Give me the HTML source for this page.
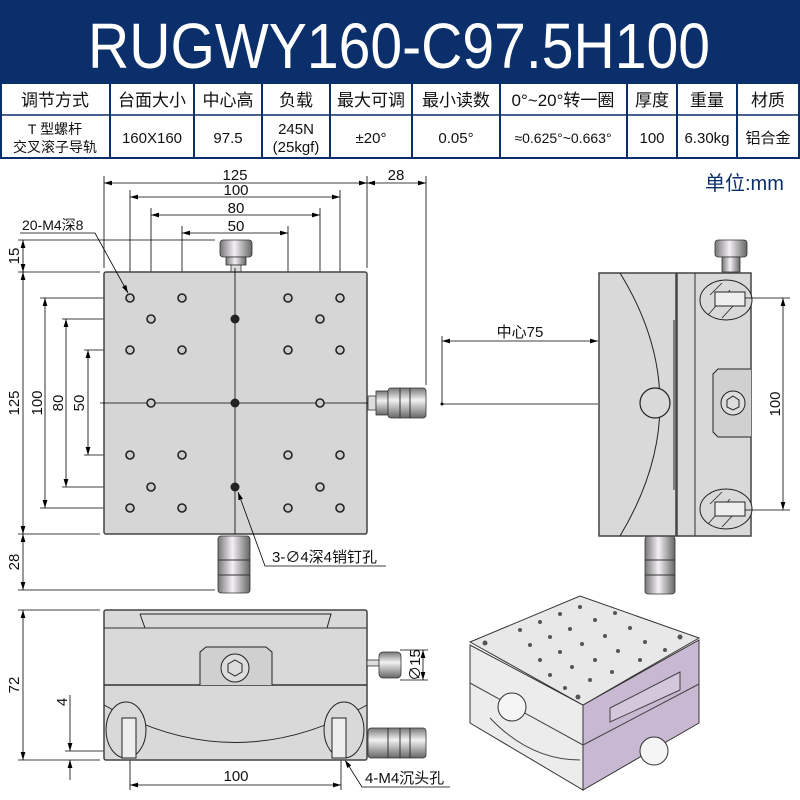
<!DOCTYPE html>
<html><head><meta charset="utf-8"><style>
body{margin:0;background:#fff}
svg{display:block}
text{font-family:"Liberation Sans","Noto Sans CJK SC",sans-serif}
</style></head><body>
<svg width="800" height="800" viewBox="0 0 800 800" xmlns="http://www.w3.org/2000/svg">
<defs>
<marker id="a" viewBox="0 0 10 6" refX="10" refY="3" markerWidth="10" markerHeight="6" orient="auto-start-reverse"><path d="M0,0L10,3L0,6z" fill="#000"/></marker>
<linearGradient id="kn" x1="0" y1="0" x2="0" y2="1"><stop offset="0" stop-color="#777"/><stop offset=".4" stop-color="#f2f2f2"/><stop offset="1" stop-color="#666"/></linearGradient>
<linearGradient id="kv" x1="0" y1="0" x2="1" y2="0"><stop offset="0" stop-color="#777"/><stop offset=".45" stop-color="#f4f0f4"/><stop offset="1" stop-color="#666"/></linearGradient>
</defs>
<rect x="0" y="0" width="800" height="83" fill="#0b2f6a"/>
<text x="399" y="68" font-size="64" fill="#fff" text-anchor="middle" textLength="622" lengthAdjust="spacingAndGlyphs">RUGWY160-C97.5H100</text>
<g stroke="#0b2f6a" stroke-width="2" fill="none">
<rect x="1" y="83" width="798" height="75"/>
<line x1="0" y1="115" x2="800" y2="115" stroke-width="1.5"/>
<line x1="110" y1="83" x2="110" y2="158"/><line x1="194" y1="83" x2="194" y2="158"/>
<line x1="262" y1="83" x2="262" y2="158"/><line x1="330" y1="83" x2="330" y2="158"/>
<line x1="412" y1="83" x2="412" y2="158"/><line x1="500" y1="83" x2="500" y2="158"/>
<line x1="627" y1="83" x2="627" y2="158"/><line x1="677" y1="83" x2="677" y2="158"/>
<line x1="737" y1="83" x2="737" y2="158"/>
</g>
<g font-size="17" text-anchor="middle" fill="#111">
<text x="55" y="106">调节方式</text><text x="152" y="106">台面大小</text><text x="228" y="106">中心高</text>
<text x="296" y="106">负载</text><text x="371" y="106">最大可调</text><text x="456" y="106">最小读数</text>
<text x="563" y="106">0°~20°转一圈</text><text x="652" y="106">厚度</text><text x="707" y="106">重量</text><text x="768" y="106">材质</text>
</g>
<g font-size="15" text-anchor="middle" fill="#111">
<text x="55" y="134" font-size="14">T 型螺杆</text><text x="55" y="152" font-size="14">交叉滚子导轨</text>
<text x="152" y="143">160X160</text><text x="228" y="143">97.5</text>
<text x="296" y="134">245N</text><text x="296" y="152">(25kgf)</text>
<text x="371" y="143">±20°</text><text x="456" y="143">0.05°</text>
<text x="563" y="143" font-size="14">≈0.625°~0.663°</text><text x="652" y="143">100</text><text x="707" y="143">6.30kg</text><text x="768" y="143">铝合金</text>
</g>
<text x="705" y="190" font-size="20" fill="#0b2f6a">单位:mm</text>

<g stroke="#000" stroke-width="0.8" fill="none">
<line x1="104" y1="176" x2="104" y2="268"/><line x1="367" y1="176" x2="367" y2="268"/><line x1="426" y1="176" x2="426" y2="385"/>
<line x1="130" y1="190" x2="130" y2="290"/><line x1="340" y1="190" x2="340" y2="290"/>
<line x1="151" y1="208" x2="151" y2="312"/><line x1="320" y1="208" x2="320" y2="306"/>
<line x1="182" y1="226" x2="182" y2="290"/><line x1="288" y1="226" x2="288" y2="290"/>
<line x1="104" y1="183" x2="367" y2="183" marker-start="url(#a)" marker-end="url(#a)"/>
<line x1="367" y1="183" x2="426" y2="183" marker-start="url(#a)" marker-end="url(#a)"/>
<line x1="130" y1="197" x2="340" y2="197" marker-start="url(#a)" marker-end="url(#a)"/>
<line x1="151" y1="215" x2="320" y2="215" marker-start="url(#a)" marker-end="url(#a)"/>
<line x1="182" y1="233" x2="288" y2="233" marker-start="url(#a)" marker-end="url(#a)"/>
<line x1="18" y1="240" x2="215" y2="240"/><line x1="18" y1="272" x2="100" y2="272"/>
<line x1="18" y1="534" x2="100" y2="534"/><line x1="18" y1="590" x2="215" y2="590"/>
<line x1="40" y1="298" x2="125" y2="298"/><line x1="40" y1="508" x2="125" y2="508"/>
<line x1="62" y1="319" x2="146" y2="319"/><line x1="62" y1="487" x2="146" y2="487"/>
<line x1="84" y1="350" x2="125" y2="350"/><line x1="84" y1="455" x2="125" y2="455"/>
<line x1="23" y1="240" x2="23" y2="272" marker-start="url(#a)" marker-end="url(#a)"/>
<line x1="23" y1="272" x2="23" y2="534" marker-start="url(#a)" marker-end="url(#a)"/>
<line x1="23" y1="534" x2="23" y2="590" marker-start="url(#a)" marker-end="url(#a)"/>
<line x1="45" y1="298" x2="45" y2="508" marker-start="url(#a)" marker-end="url(#a)"/>
<line x1="66" y1="319" x2="66" y2="487" marker-start="url(#a)" marker-end="url(#a)"/>
<line x1="88" y1="350" x2="88" y2="455" marker-start="url(#a)" marker-end="url(#a)"/>
</g>
<g font-size="15" text-anchor="middle" fill="#111">
<text x="235" y="180">125</text><text x="396" y="180">28</text><text x="236" y="195">100</text>
<text x="236" y="213">80</text><text x="236" y="231">50</text>
<text transform="translate(19,256) rotate(-90)">15</text>
<text transform="translate(19,403) rotate(-90)">125</text>
<text transform="translate(19,562) rotate(-90)">28</text>
<text transform="translate(42,403) rotate(-90)">100</text>
<text transform="translate(63,403) rotate(-90)">80</text>
<text transform="translate(84,403) rotate(-90)">50</text>
</g>
<rect x="220" y="240" width="32" height="17" rx="3" fill="url(#kv)" stroke="#333" stroke-width=".8"/>
<rect x="226" y="257" width="20" height="8" fill="url(#kv)" stroke="#333" stroke-width=".8"/>
<rect x="231" y="265" width="10" height="7" fill="#ddd" stroke="#333" stroke-width=".8"/>
<rect x="368" y="396" width="8" height="14" fill="#ddd" stroke="#333" stroke-width=".8"/>
<rect x="376" y="391" width="12" height="24" fill="url(#kn)" stroke="#333" stroke-width=".8"/>
<rect x="388" y="388" width="38" height="30" rx="3" fill="url(#kn)" stroke="#333" stroke-width=".8"/>
<line x1="400" y1="388" x2="400" y2="418" stroke="#333"/><line x1="410" y1="388" x2="410" y2="418" stroke="#333"/>
<rect x="218" y="536" width="32" height="57" rx="3" fill="url(#kv)" stroke="#333" stroke-width=".8"/>
<line x1="218" y1="560" x2="250" y2="560" stroke="#333"/><line x1="218" y1="575" x2="250" y2="575" stroke="#333"/>
<rect x="104" y="272" width="263" height="262" rx="2" fill="#d6d6d6" stroke="#444" stroke-width="1.5"/>
<g stroke="#000" stroke-width="0.8" fill="none">
<line x1="235" y1="268" x2="235" y2="534"/><line x1="100" y1="403" x2="368" y2="403"/>
</g>
<g fill="#ccc" stroke="#222" stroke-width="1.6">
<circle cx="130" cy="298" r="4"/><circle cx="182" cy="298" r="4"/><circle cx="288" cy="298" r="4"/><circle cx="340" cy="298" r="4"/>
<circle cx="130" cy="350" r="4"/><circle cx="182" cy="350" r="4"/><circle cx="288" cy="350" r="4"/><circle cx="340" cy="350" r="4"/>
<circle cx="130" cy="455" r="4"/><circle cx="182" cy="455" r="4"/><circle cx="288" cy="455" r="4"/><circle cx="340" cy="455" r="4"/>
<circle cx="130" cy="508" r="4"/><circle cx="182" cy="508" r="4"/><circle cx="288" cy="508" r="4"/><circle cx="340" cy="508" r="4"/>
<circle cx="151" cy="319" r="4"/><circle cx="320" cy="319" r="4"/><circle cx="151" cy="403" r="4"/><circle cx="320" cy="403" r="4"/>
<circle cx="151" cy="487" r="4"/><circle cx="320" cy="487" r="4"/>
</g>
<g fill="#222"><circle cx="235" cy="319" r="4.5"/><circle cx="235" cy="403" r="4.5"/><circle cx="235" cy="487" r="4.5"/></g>
<g stroke="#000" stroke-width="0.8" fill="none">
<polyline points="20,233 95,233 128,293" marker-end="url(#a)"/>
<polyline points="386,566 265,566 238,492" marker-end="url(#a)"/>
</g>
<text x="22" y="230" font-size="14" fill="#111">20-M4深8</text>
<text x="272" y="562" font-size="15" fill="#111">3-∅4深4销钉孔</text>

<rect x="715" y="240" width="32" height="17" rx="3" fill="url(#kv)" stroke="#333" stroke-width=".8"/>
<rect x="722" y="257" width="18" height="15" fill="url(#kv)" stroke="#333" stroke-width=".8"/>
<rect x="645" y="536" width="30" height="58" rx="3" fill="url(#kv)" stroke="#333" stroke-width=".8"/>
<line x1="645" y1="560" x2="675" y2="560" stroke="#333"/><line x1="645" y1="575" x2="675" y2="575" stroke="#333"/>
<rect x="599" y="273" width="77" height="263" fill="#d9d9d9" stroke="#444" stroke-width="1.5"/>
<rect x="677" y="273" width="74" height="263" fill="#d9d9d9" stroke="#444" stroke-width="1.5"/>
<path d="M620,273 Q700,403 620,536" fill="none" stroke="#222" stroke-width="1"/>
<line x1="674" y1="320" x2="674" y2="490" stroke="#222"/>
<line x1="695" y1="273" x2="695" y2="536" stroke="#333"/>
<circle cx="655" cy="403" r="15" fill="#d9d9d9" stroke="#222" stroke-width="1.2"/>
<path d="M751,369 L718,369 L713,374 L713,432 L718,437 L751,437" fill="#d0d0d0" stroke="#222"/>
<circle cx="733" cy="403" r="12" fill="#ddd" stroke="#222"/><polygon points="733,396 739,400 739,407 733,410 727,407 727,400" fill="none" stroke="#222"/>
<ellipse cx="726" cy="300" rx="26" ry="20" fill="#d9d9d9" stroke="#222"/>
<ellipse cx="726" cy="509" rx="26" ry="20" fill="#d9d9d9" stroke="#222"/>
<g stroke="#222" stroke-width="0.8">
<line x1="708" y1="315" x2="730" y2="290"/><line x1="722" y1="318" x2="745" y2="293"/><line x1="710" y1="295" x2="722" y2="283"/>
<line x1="708" y1="524" x2="730" y2="499"/><line x1="722" y1="527" x2="745" y2="502"/><line x1="710" y1="504" x2="722" y2="492"/>
</g>
<rect x="715" y="292" width="30" height="14" fill="#eee" stroke="#222"/><rect x="715" y="502" width="30" height="14" fill="#eee" stroke="#222"/>
<g stroke="#000" stroke-width="0.8" fill="none">
<line x1="442" y1="336" x2="442" y2="405"/><line x1="443" y1="404" x2="598" y2="404"/>
<line x1="442" y1="341" x2="598" y2="341" marker-start="url(#a)" marker-end="url(#a)"/>
<line x1="745" y1="298" x2="790" y2="298"/><line x1="745" y1="510" x2="790" y2="510"/>
<line x1="783" y1="298" x2="783" y2="510" marker-start="url(#a)" marker-end="url(#a)"/>
</g>
<circle cx="442" cy="404" r="1.5"/>
<text x="520" y="337" font-size="15" text-anchor="middle" fill="#111">中心75</text>
<text transform="translate(780,404) rotate(-90)" font-size="15" text-anchor="middle" fill="#111">100</text>

<g stroke="#000" stroke-width="0.8" fill="none">
<line x1="18" y1="610" x2="100" y2="610"/><line x1="18" y1="760" x2="100" y2="760"/>
<line x1="23" y1="610" x2="23" y2="760" marker-start="url(#a)" marker-end="url(#a)"/>
<line x1="65" y1="751" x2="128" y2="751"/>
<line x1="70" y1="695" x2="70" y2="751" marker-end="url(#a)"/>
<line x1="70" y1="780" x2="70" y2="760" marker-end="url(#a)"/>
<line x1="130" y1="760" x2="130" y2="790"/><line x1="341" y1="760" x2="341" y2="790"/>
<line x1="130" y1="785" x2="341" y2="785" marker-start="url(#a)" marker-end="url(#a)"/>
<line x1="400" y1="650" x2="428" y2="650"/><line x1="400" y1="680" x2="428" y2="680"/>
<line x1="423" y1="650" x2="423" y2="680" marker-start="url(#a)" marker-end="url(#a)"/>
<polyline points="450,787 362,787 345,760" marker-end="url(#a)"/>
</g>
<text transform="translate(19,685) rotate(-90)" font-size="15" text-anchor="middle" fill="#111">72</text>
<text transform="translate(67,702) rotate(-90)" font-size="15" text-anchor="middle" fill="#111">4</text>
<text x="236" y="781" font-size="15" text-anchor="middle" fill="#111">100</text>
<text transform="translate(420,665) rotate(-90)" font-size="15" text-anchor="middle" fill="#111">∅15</text>
<text x="365" y="783" font-size="15" fill="#111">4-M4沉头孔</text>
<rect x="104" y="610" width="263" height="150" rx="2" fill="#d9d9d9" stroke="#444" stroke-width="1.5"/>
<line x1="104" y1="628" x2="367" y2="628" stroke="#333"/>
<path d="M140,614 L331,614 L327,628" fill="none" stroke="#222"/><path d="M140,614 L145,628" fill="none" stroke="#222"/>
<line x1="104" y1="685" x2="367" y2="685" stroke="#333" stroke-width="1.5"/>
<path d="M200,685 L200,652 L206,647 L266,647 L272,652 L272,685" fill="#d0d0d0" stroke="#222"/>
<circle cx="235" cy="668" r="14" fill="#ddd" stroke="#222"/><polygon points="235,660 242,664 242,672 235,676 228,672 228,664" fill="none" stroke="#222"/>
<path d="M104,705 Q235,780 367,705" fill="none" stroke="#222"/>
<ellipse cx="126" cy="730" rx="20" ry="28" fill="#d9d9d9" stroke="#222"/>
<ellipse cx="344" cy="730" rx="20" ry="28" fill="#d9d9d9" stroke="#222"/>
<rect x="122" y="718" width="14" height="40" fill="#eee" stroke="#222"/><rect x="332" y="718" width="14" height="40" fill="#eee" stroke="#222"/>
<rect x="367" y="660" width="12" height="6" fill="#ddd" stroke="#333" stroke-width=".8"/>
<rect x="379" y="652" width="22" height="26" rx="4" fill="url(#kn)" stroke="#333" stroke-width=".8"/>
<rect x="368" y="728" width="58" height="30" rx="3" fill="url(#kn)" stroke="#333" stroke-width=".8"/>
<line x1="388" y1="728" x2="388" y2="758" stroke="#333"/><line x1="400" y1="728" x2="400" y2="758" stroke="#333"/><line x1="410" y1="728" x2="410" y2="758" stroke="#333"/>

<polygon points="470,645 470,723 583,790 583,705" fill="#ececec" stroke="#333"/>
<polygon points="583,705 583,790 699,723 699,640" fill="#c9b8d2" stroke="#333"/>
<polygon points="470,642 580,596 699,638 583,705" fill="#e8e8e8" stroke="#333"/>
<line x1="470" y1="683" x2="583" y2="745" stroke="#444"/><line x1="583" y1="745" x2="699" y2="684" stroke="#444"/>
<path d="M490,718 Q530,760 580,760" fill="none" stroke="#444"/>
<circle cx="512" cy="707" r="14" fill="#f5f5f5" stroke="#333"/>
<circle cx="654" cy="751" r="14" fill="#f5f5f5" stroke="#333"/>
<path d="M610,708 L680,672 L680,690 L610,722z" fill="#d4c6db" stroke="#444"/>
<g fill="#555">
<circle cx="520" cy="630" r="2"/><circle cx="540" cy="622" r="2"/><circle cx="560" cy="614" r="2"/><circle cx="580" cy="607" r="2"/>
<circle cx="530" cy="645" r="2"/><circle cx="550" cy="637" r="2"/><circle cx="570" cy="629" r="2"/><circle cx="595" cy="620" r="2"/><circle cx="615" cy="613" r="2"/>
<circle cx="540" cy="660" r="2"/><circle cx="560" cy="652" r="2"/><circle cx="582" cy="644" r="2"/><circle cx="605" cy="636" r="2"/><circle cx="630" cy="628" r="2"/>
<circle cx="550" cy="675" r="2"/><circle cx="572" cy="667" r="2"/><circle cx="595" cy="660" r="2"/><circle cx="618" cy="651" r="2"/><circle cx="645" cy="642" r="2"/>
<circle cx="565" cy="688" r="2"/><circle cx="590" cy="680" r="2"/><circle cx="612" cy="672" r="2"/><circle cx="640" cy="660" r="2"/><circle cx="665" cy="650" r="2"/>
<circle cx="485" cy="643" r="2.5"/><circle cx="680" cy="637" r="2.5"/><circle cx="578" cy="697" r="2.5"/>
</g>
</svg>
</body></html>
